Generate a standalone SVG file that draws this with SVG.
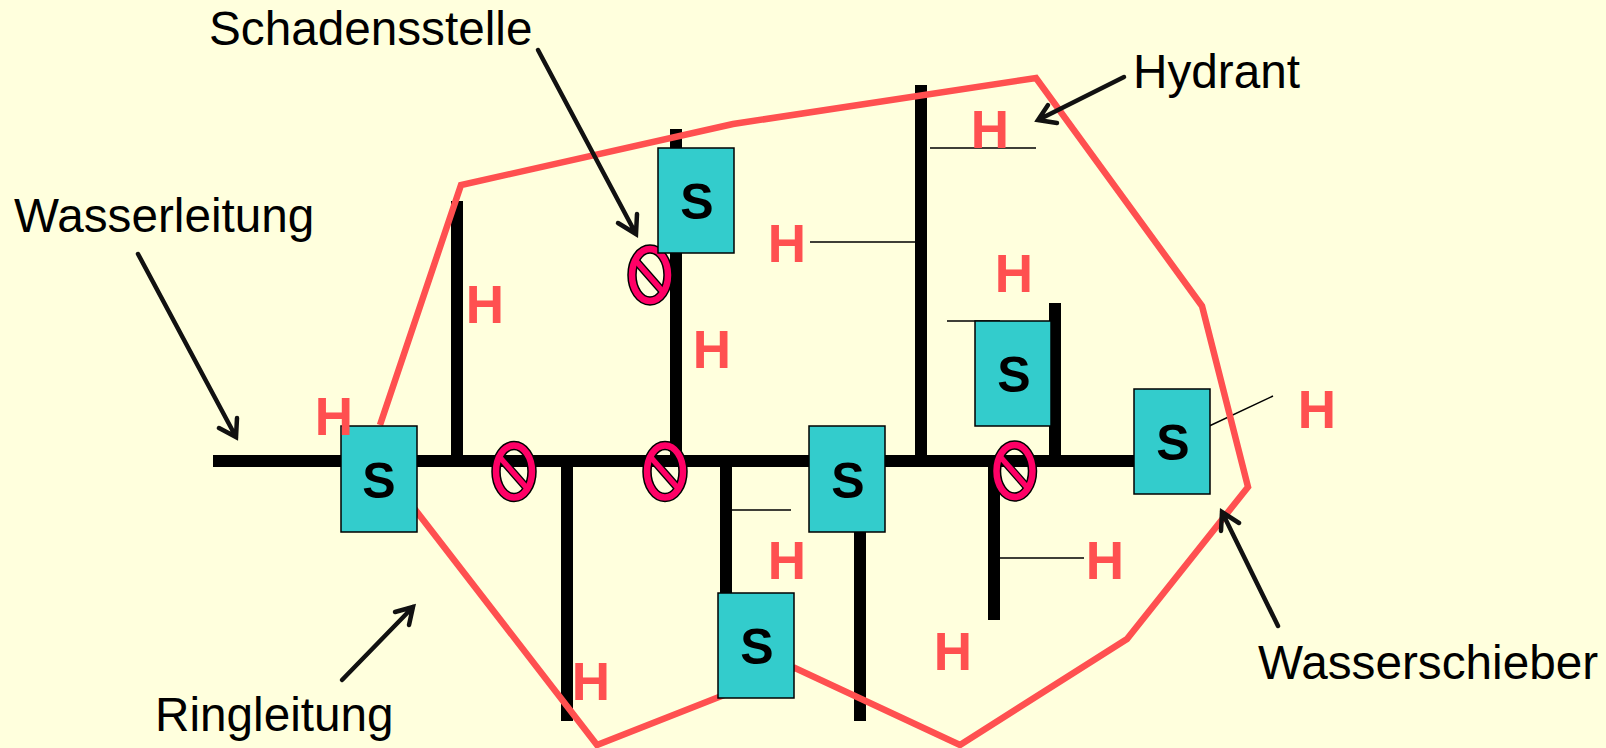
<svg xmlns="http://www.w3.org/2000/svg" width="1606" height="748" viewBox="0 0 1606 748">
<style>
.pipe{stroke:#000;stroke-width:12;fill:none}
.thin{stroke:#000;stroke-width:1.5;fill:none}
.arrow{stroke:#111;stroke-width:4.5;fill:none;stroke-linecap:round;stroke-linejoin:miter}
.ring{stroke:#FF5050;stroke-width:6.500;fill:none;stroke-linejoin:miter}
.box{fill:#33CCCC;stroke:#000;stroke-width:1.5}
.s{font:bold 50px "Liberation Sans",Arial,sans-serif;fill:#000;text-anchor:middle}
.h{font:bold 53px "Liberation Sans",Arial,sans-serif;fill:#FF5050;text-anchor:middle}
.label{font:47.700px "Liberation Sans",Arial,sans-serif;fill:#000}
.noO{fill:none;stroke:#000;stroke-width:9.500}
.noI{fill:none;stroke:#FF0066;stroke-width:6.500}
.noB{stroke:#000;stroke-width:8}
.noC{stroke:#FF0066;stroke-width:5.500}
</style>
<defs>
<g id="no">
<line class="noB" x1="-14" y1="-14" x2="14" y2="18"/>
<ellipse class="noO" rx="18" ry="26"/>
<ellipse class="noI" rx="18" ry="26"/>
<line class="noC" x1="-14" y1="-14" x2="14" y2="18"/>
</g>
</defs>
<rect width="1606" height="748" fill="#FFFFDD"/>
<g id="connectors">
<path class="pipe" d="M213 461H1140M457 461V201M676 461V129M921 461V85M1055 461V303M567 461V721M726 461V620M860 520V721M994 461V620"/>
<path class="thin" d="M930 148H1036M810 242H921M947 321H1000M726 510H791M994 558H1084M1205 428L1273 396"/>
<path class="ring" d="M380 425L461 185L733 124L1036 78L1202 306L1248 487L1127 639L960 745L795 668L719 697L597 745L400 490"/>
<g class="arrow">
<path d="M538 50L636 234M618 223L636 234L637 214"/>
<path d="M138 254L236 437M219 428L236 437L237 418"/>
<path d="M1124 77L1038 120M1048 105L1038 120L1057 123"/>
<path d="M342 680L413 607M395 612L413 607L409 625"/>
<path d="M1278 626L1222 512M1221 531L1222 512L1239 523"/>
</g>
</g>
<g id="damage1"><use href="#no" x="650" y="275"/></g>
<g id="damage2"><use href="#no" x="514" y="471.500"/></g>
<g id="damage3"><use href="#no" x="665" y="471.500"/></g>
<g id="damage4"><use href="#no" x="1014.500" y="471"/></g>
<g id="slide1"><rect class="box" x="341" y="426" width="76" height="106"/><text class="s" x="379" y="498">S</text></g>
<g id="slide2"><rect class="box" x="658" y="148" width="76" height="105"/><text class="s" x="697" y="219">S</text></g>
<g id="slide3"><rect class="box" x="809" y="426" width="76" height="106"/><text class="s" x="848" y="498">S</text></g>
<g id="slide4"><rect class="box" x="718" y="593" width="76" height="105"/><text class="s" x="757" y="664">S</text></g>
<g id="slide5"><rect class="box" x="975" y="321" width="76" height="105"/><text class="s" x="1014" y="392">S</text></g>
<g id="slide6"><rect class="box" x="1134" y="389" width="76" height="105"/><text class="s" x="1173" y="460">S</text></g>
<g id="hydrants">
<text class="h" x="334" y="435">H</text>
<text class="h" x="485" y="323">H</text>
<text class="h" x="712" y="368">H</text>
<text class="h" x="787" y="262">H</text>
<text class="h" x="990" y="148">H</text>
<text class="h" x="1014" y="292">H</text>
<text class="h" x="1317" y="428">H</text>
<text class="h" x="787" y="579">H</text>
<text class="h" x="1105" y="579">H</text>
<text class="h" x="953" y="670">H</text>
<text class="h" x="591" y="700">H</text>
</g>
<g id="labels">
<text class="label" x="209" y="45">Schadensstelle</text>
<text class="label" x="14" y="232">Wasserleitung</text>
<text class="label" x="1133" y="88">Hydrant</text>
<text class="label" x="155" y="731">Ringleitung</text>
<text class="label" x="1258" y="679">Wasserschieber</text>
</g>
</svg>
